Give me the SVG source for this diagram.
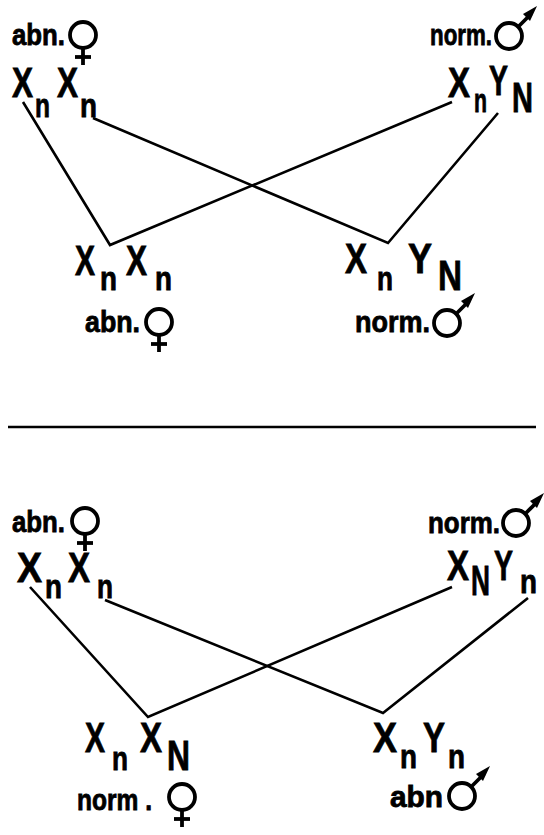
<svg xmlns="http://www.w3.org/2000/svg" width="544" height="835" viewBox="0 0 544 835">
<style>
text{font-family:"Liberation Sans Narrow","Liberation Sans",Arial,sans-serif;font-weight:bold;fill:#000;stroke:#000;stroke-width:0.8}
.b{font-size:42px}
.s{font-size:33px}
.l{font-size:29px}
.sym{fill:none;stroke:#000;stroke-width:3.8}
.con{fill:none;stroke:#000;stroke-width:2.6;stroke-linejoin:miter}
</style>
<defs>
<g id="fem"><circle cx="0" cy="0" r="13" class="sym"/><line x1="0" y1="13" x2="0" y2="30" class="sym"/><line x1="-8" y1="22" x2="8" y2="22" class="sym"/></g>
<g id="mal"><circle cx="0" cy="0" r="13" class="sym"/><line x1="9" y1="-9" x2="22" y2="-22" class="sym"/><polygon points="28,-30 14,-22 21,-15" fill="#000"/></g>
</defs>
<g id="connectors">
<polyline class="con" points="23,102 110,245 452,102"/>
<polyline class="con" points="93,118 388,243 498,113"/>
<line x1="8" y1="427" x2="536" y2="427" stroke="#000" stroke-width="2.6"/>
<polyline class="con" points="30,587 148,717 452,587"/>
<polyline class="con" points="105,600 383,713 528,598"/>
</g>
<g id="top-mother">
<text class="l" x="12" y="45" textLength="53" lengthAdjust="spacingAndGlyphs">abn.</text>
<use href="#fem" x="83" y="35"/>
<text class="b" x="12" y="97" textLength="21" lengthAdjust="spacingAndGlyphs">X</text>
<text class="s" x="35" y="117" textLength="15" lengthAdjust="spacingAndGlyphs">n</text>
<text class="b" x="57" y="97" textLength="21" lengthAdjust="spacingAndGlyphs">X</text>
<text class="s" x="80" y="117" textLength="17" lengthAdjust="spacingAndGlyphs">n</text>
</g>
<g id="top-father">
<text class="l" x="430" y="45" textLength="62" lengthAdjust="spacingAndGlyphs">norm.</text>
<use href="#mal" x="509" y="36"/>
<text class="b" x="448" y="97" textLength="22" lengthAdjust="spacingAndGlyphs">X</text>
<text class="s" x="474" y="112" textLength="13" lengthAdjust="spacingAndGlyphs">n</text>
<text class="b" x="489" y="95" textLength="19" lengthAdjust="spacingAndGlyphs">Y</text>
<text class="b" x="512" y="112" textLength="21" lengthAdjust="spacingAndGlyphs">N</text>
</g>
<g id="top-daughter">
<text class="b" x="75" y="275" textLength="20" lengthAdjust="spacingAndGlyphs">X</text>
<text class="s" x="100" y="290" textLength="17" lengthAdjust="spacingAndGlyphs">n</text>
<text class="b" x="126" y="275" textLength="21" lengthAdjust="spacingAndGlyphs">X</text>
<text class="s" x="155" y="290" textLength="17" lengthAdjust="spacingAndGlyphs">n</text>
<text class="l" x="85" y="332" textLength="55" lengthAdjust="spacingAndGlyphs">abn.</text>
<use href="#fem" x="159" y="322"/>
</g>
<g id="top-son">
<text class="b" x="345" y="273" textLength="22" lengthAdjust="spacingAndGlyphs">X</text>
<text class="s" x="377" y="290" textLength="16" lengthAdjust="spacingAndGlyphs">n</text>
<text class="b" x="408" y="273" textLength="24" lengthAdjust="spacingAndGlyphs">Y</text>
<text class="b" x="438" y="290" textLength="24" lengthAdjust="spacingAndGlyphs">N</text>
<text class="l" x="355" y="332" textLength="75" lengthAdjust="spacingAndGlyphs">norm.</text>
<use href="#mal" x="447" y="323"/>
</g>
<g id="bottom-mother">
<text class="l" x="12" y="532" textLength="53" lengthAdjust="spacingAndGlyphs">abn.</text>
<use href="#fem" x="85" y="521"/>
<text class="b" x="17" y="582" textLength="25" lengthAdjust="spacingAndGlyphs">X</text>
<text class="s" x="45" y="598" textLength="17" lengthAdjust="spacingAndGlyphs">n</text>
<text class="b" x="68" y="582" textLength="22" lengthAdjust="spacingAndGlyphs">X</text>
<text class="s" x="97" y="598" textLength="16" lengthAdjust="spacingAndGlyphs">n</text>
</g>
<g id="bottom-father">
<text class="l" x="428" y="533" textLength="72" lengthAdjust="spacingAndGlyphs">norm.</text>
<use href="#mal" x="516" y="523"/>
<text class="b" x="447" y="580" textLength="22" lengthAdjust="spacingAndGlyphs">X</text>
<text class="b" x="471" y="595" textLength="19" lengthAdjust="spacingAndGlyphs">N</text>
<text class="b" x="494" y="580" textLength="19" lengthAdjust="spacingAndGlyphs">Y</text>
<text class="s" x="520" y="593" textLength="17" lengthAdjust="spacingAndGlyphs">n</text>
</g>
<g id="bottom-daughter">
<text class="b" x="85" y="752" textLength="20" lengthAdjust="spacingAndGlyphs">X</text>
<text class="s" x="112" y="770" textLength="16" lengthAdjust="spacingAndGlyphs">n</text>
<text class="b" x="140" y="752" textLength="22" lengthAdjust="spacingAndGlyphs">X</text>
<text class="b" x="167" y="770" textLength="23" lengthAdjust="spacingAndGlyphs">N</text>
<text class="l" x="77" y="810" textLength="75" lengthAdjust="spacingAndGlyphs">norm .</text>
<use href="#fem" x="182" y="797"/>
</g>
<g id="bottom-son">
<text class="b" x="373" y="752" textLength="24" lengthAdjust="spacingAndGlyphs">X</text>
<text class="s" x="400" y="768" textLength="17" lengthAdjust="spacingAndGlyphs">n</text>
<text class="b" x="423" y="752" textLength="22" lengthAdjust="spacingAndGlyphs">Y</text>
<text class="s" x="448" y="768" textLength="17" lengthAdjust="spacingAndGlyphs">n</text>
<text class="l" x="390" y="807" textLength="53" lengthAdjust="spacingAndGlyphs">abn</text>
<use href="#mal" x="462" y="796"/>
</g>
</svg>
